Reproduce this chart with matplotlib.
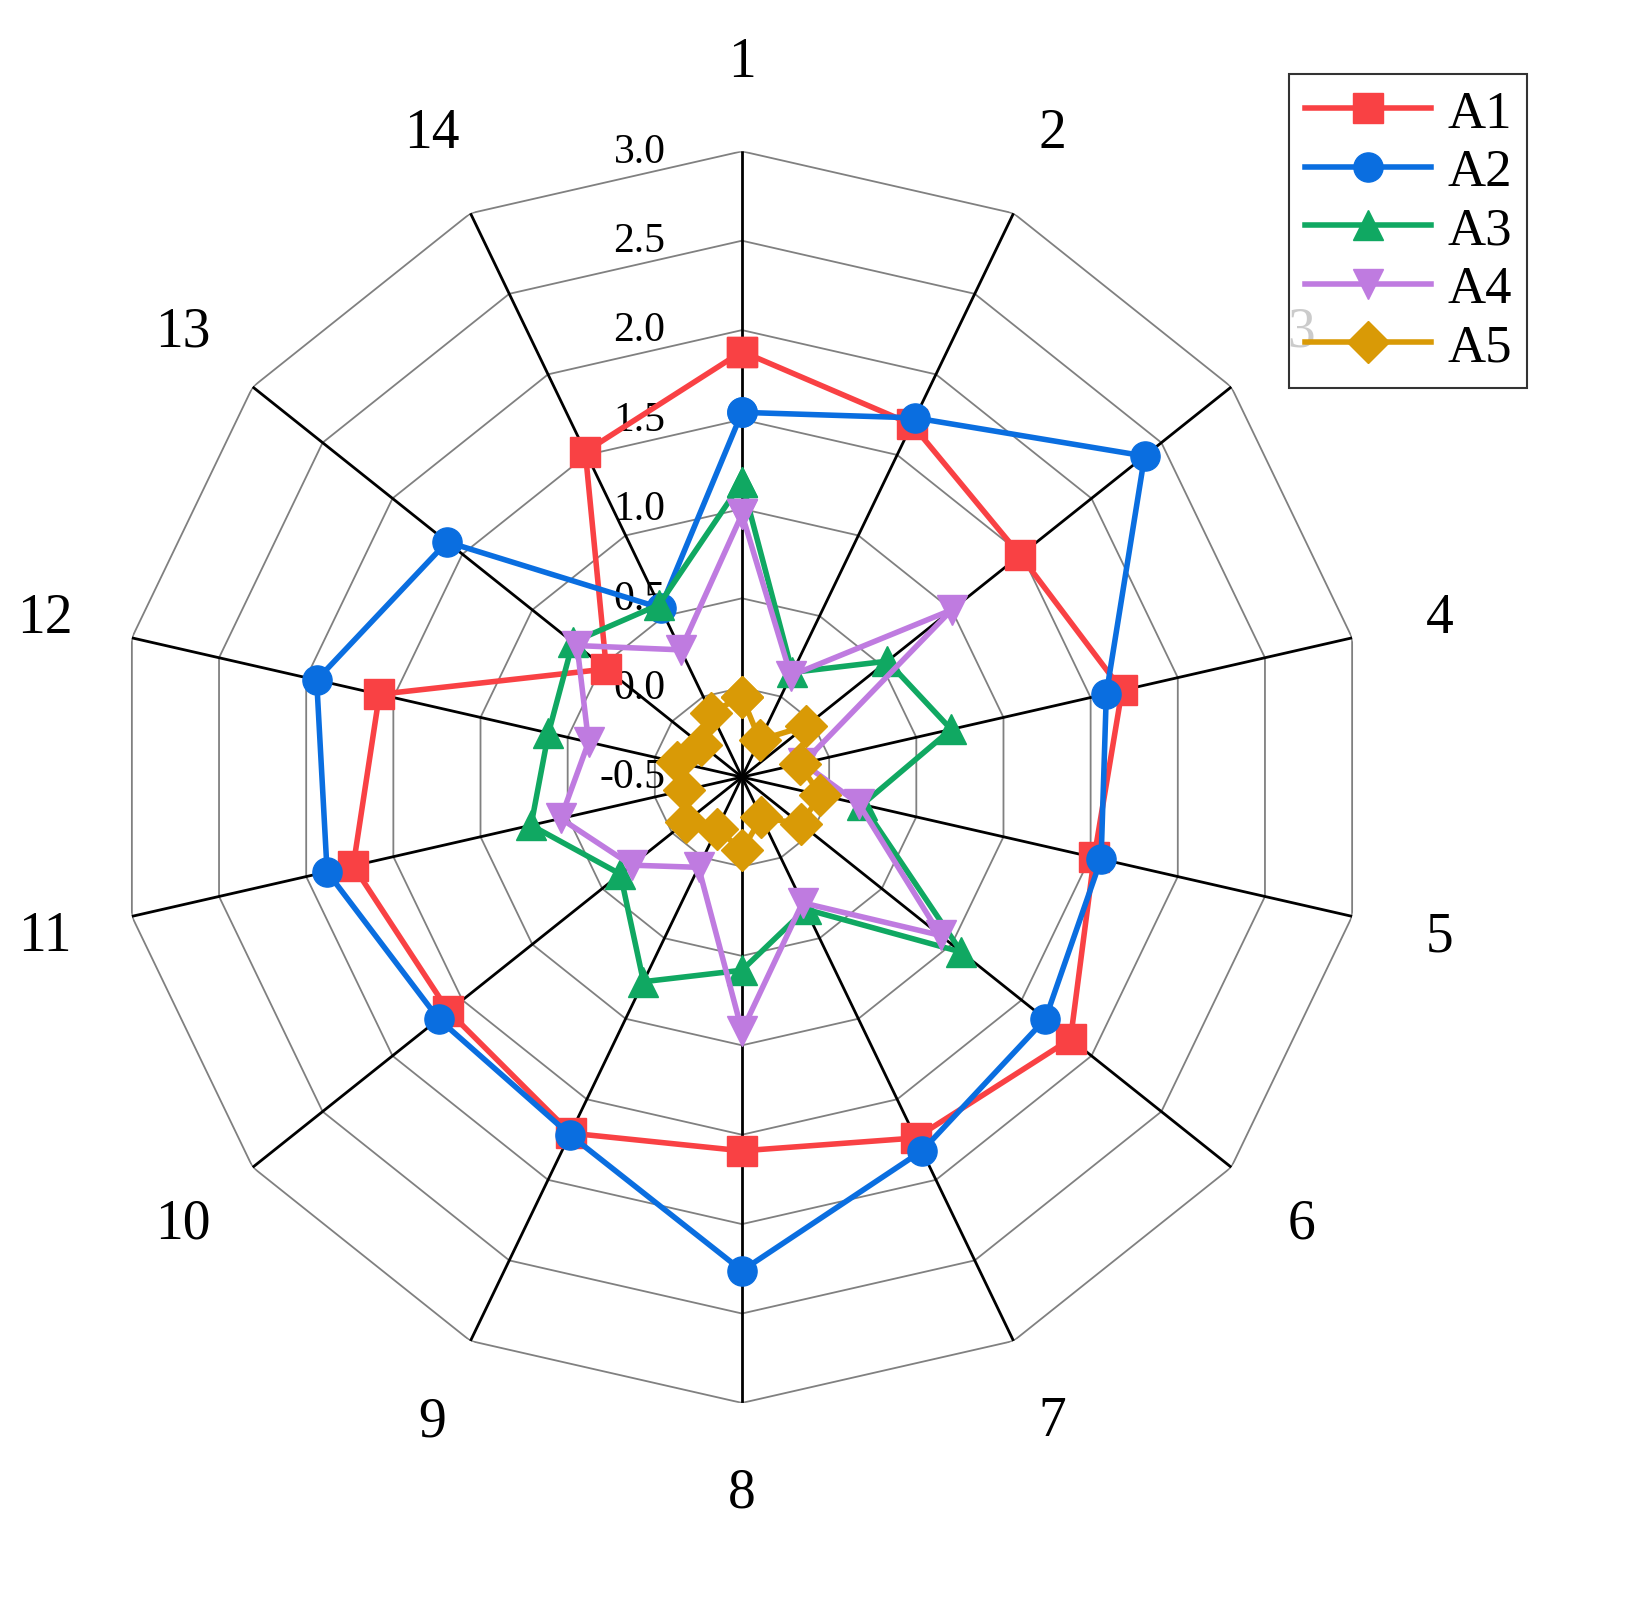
import numpy as np
import matplotlib
matplotlib.use("Agg")
import matplotlib.pyplot as plt

plt.rcParams['font.family'] = ['Liberation Serif', 'DejaVu Serif']

categories = [str(i) for i in range(1, 15)]
A1 = [1.88, 1.69, 1.49, 1.68, 1.52, 1.85, 1.74, 1.59, 1.71, 1.60, 1.73, 1.58, 0.47, 1.52]
A2 = [1.54, 1.73, 2.38, 1.59, 1.56, 1.67, 1.82, 2.26, 1.72, 1.67, 1.88, 1.94, 1.61, 0.55]
A3 = [1.15, 0.15, 0.54, 0.70, 0.19, 1.07, 0.32, 0.58, 0.77, 0.37, 0.71, 0.61, 0.71, 0.57]
A4 = [0.97, 0.13, 1.00, -0.15, 0.17, 0.92, 0.28, 0.92, 0.06, 0.29, 0.54, 0.38, 0.68, 0.29]
A5 = [-0.05, -0.27, -0.04, -0.17, -0.05, -0.08, -0.25, -0.09, -0.18, -0.10, -0.17, -0.13, -0.21, -0.10]
ticks = [-0.5, 0.0, 0.5, 1.0, 1.5, 2.0, 2.5, 3.0]
tick_labels = ['-0.5', '0.0', '0.5', '1.0', '1.5', '2.0', '2.5', '3.0']

series = [("A1", A1, "#f94144", "s"), ("A2", A2, "#0a6ee0", "o"),
          ("A3", A3, "#10a862", "^"), ("A4", A4, "#bf7be0", "v"),
          ("A5", A5, "#d99a06", "D")]

n = len(categories)
theta = np.linspace(0, 2 * np.pi, n, endpoint=False)

fig = plt.figure(figsize=(16.27, 16.15), dpi=100)
ax = fig.add_axes([0.0713, 0.1307, 0.7695, 0.775], projection='polar')
ax.set_theta_zero_location('N')
ax.set_theta_direction(-1)
ax.set_ylim(-0.5, 3.0)
ax.grid(False)
ax.spines['polar'].set_visible(False)
ax.set_xticks([])
ax.set_yticks([])
ax.patch.set_alpha(0)

tc = np.append(theta, theta[0])
for t in ticks[1:]:
    ax.plot(tc, [t] * (n + 1), color='#808080', lw=1.3, zorder=1)
for th in theta:
    ax.plot([th, th], [-0.5, 3.0], color='black', lw=2, zorder=2)

for lab, th in zip(categories, theta):
    ax.text(th, 3.5, lab, ha='center', va='center', fontsize=40, clip_on=False)

for t, tl in zip(ticks, tick_labels):
    ax.annotate(tl, xy=(0, t), xytext=(-55, 0), textcoords='offset points',
                ha='right', va='center', fontsize=30, zorder=3)

for name, vals, col, mk in series:
    v = vals + [vals[0]]
    ax.plot(tc, v, color=col, lw=4, marker=mk, markersize=21,
            label=name, zorder=5, clip_on=False)

leg = fig.legend(loc='upper right', bbox_to_anchor=(0.955, 0.97), fontsize=38,
                 frameon=True, fancybox=False, edgecolor='black',
                 handlelength=2.4, borderpad=0.3, labelspacing=0.2, handletextpad=0.3)
leg.get_frame().set_linewidth(1.5)

fig.savefig('out.png', dpi=100)
